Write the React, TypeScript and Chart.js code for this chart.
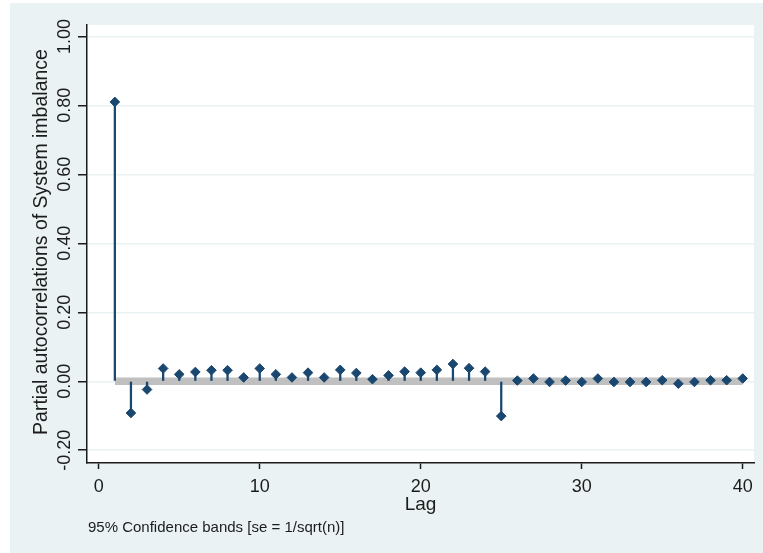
import React, { useEffect, useRef } from "react";
import { Chart, registerables } from "chart.js";

Chart.register(...registerables);

// Partial autocorrelation function of system imbalance, lags 1..40
const lags = [
  1, 2, 3, 4, 5, 6, 7, 8, 9, 10, 11, 12, 13, 14, 15, 16, 17, 18, 19, 20,
  21, 22, 23, 24, 25, 26, 27, 28, 29, 30, 31, 32, 33, 34, 35, 36, 37, 38, 39, 40,
];
const pacValues = [
  0.81, -0.092, -0.024, 0.037, 0.02, 0.027, 0.032, 0.032, 0.011, 0.037,
  0.02, 0.011, 0.025, 0.011, 0.033, 0.024, 0.006, 0.017, 0.028, 0.025,
  0.033, 0.05, 0.038, 0.028, -0.101, 0.002, 0.008, -0.002, 0.002, -0.002,
  0.008, -0.002, -0.002, -0.002, 0.003, -0.007, -0.002, 0.003, 0.003, 0.008,
];
// 95% confidence band half-width, se = 1/sqrt(n)
const bandHalfWidth = 0.011;
const bandLags = [1, 40];

const yTickValues = [-0.2, 0, 0.2, 0.4, 0.6, 0.8, 1.0];
const xTickValues = [0, 10, 20, 30, 40];

const yTitle = "Partial autocorrelations of System imbalance";
const xTitle = "Lag";
const footnote = "95% Confidence bands [se = 1/sqrt(n)]";

const FONT = '"Liberation Sans", Arial, Helvetica, sans-serif';
const TEXT = "#1c1c1c";
const NAVY = "#1a476f";
const REGION_BG = "#eaf2f3";

const stataFrame = {
  id: "stataFrame",
  beforeDraw(chart: any) {
    const { ctx, chartArea, width, height } = chart;
    ctx.save();
    ctx.fillStyle = "#ffffff";
    ctx.fillRect(0, 0, width, height);
    ctx.fillStyle = REGION_BG;
    ctx.fillRect(10, 3, width - 10, height - 3);
    ctx.fillStyle = "#ffffff";
    ctx.fillRect(
      chartArea.left,
      chartArea.top,
      chartArea.right - chartArea.left,
      chartArea.bottom - chartArea.top
    );
    ctx.restore();
  },
  afterDraw(chart: any) {
    const { ctx, chartArea } = chart;
    const xs = chart.scales.x;
    const ys = chart.scales.y;
    ctx.save();
    ctx.fillStyle = TEXT;

    // vertical y tick labels
    ctx.font = `18px ${FONT}`;
    ctx.textAlign = "center";
    ctx.textBaseline = "alphabetic";
    ys.ticks.forEach((t: any) => {
      const y = ys.getPixelForValue(t.value);
      ctx.save();
      ctx.translate(70, y);
      ctx.rotate(-Math.PI / 2);
      ctx.fillText(Number(t.value).toFixed(2), 0, 0);
      ctx.restore();
    });

    // y axis title
    ctx.font = `19.5px ${FONT}`;
    ctx.save();
    ctx.translate(47, (chartArea.top + chartArea.bottom) / 2 - 2);
    ctx.rotate(-Math.PI / 2);
    ctx.fillText(yTitle, 0, 0);
    ctx.restore();

    // x tick labels
    ctx.font = `18px ${FONT}`;
    xs.ticks.forEach((t: any) => {
      const x = xs.getPixelForValue(t.value);
      ctx.fillText(String(t.value), x, 492);
    });

    // x axis title
    ctx.font = `19px ${FONT}`;
    ctx.fillText(xTitle, (chartArea.left + chartArea.right) / 2, 510);

    // note
    ctx.font = `15px ${FONT}`;
    ctx.textAlign = "left";
    ctx.fillText(footnote, 88, 531.5);
    ctx.restore();
  },
};

export default function App() {
  const canvasRef = useRef<HTMLCanvasElement | null>(null);

  useEffect(() => {
    const canvas = canvasRef.current;
    if (!canvas) return;

    const points = lags.map((lag, i) => ({ x: lag, y: pacValues[i] }));
    const bandPoints = bandLags.map((lag) => ({ x: lag, y: bandHalfWidth }));

    const chart = new Chart(canvas, {
      type: "bar",
      data: {
        datasets: [
          {
            type: "line",
            label: "band",
            data: bandPoints,
            borderWidth: 0,
            borderColor: "rgba(0,0,0,0)",
            pointRadius: 0,
            backgroundColor: "#c0c0c0",
            fill: { value: -bandHalfWidth },
            order: 3,
          } as any,
          {
            type: "bar",
            label: "stems",
            data: points,
            backgroundColor: NAVY,
            borderWidth: 0,
            barThickness: 1.6,
            order: 2,
          } as any,
          {
            type: "line",
            label: "PACF",
            data: points,
            showLine: false,
            pointStyle: "rectRot",
            pointRadius: 4.8,
            pointBorderWidth: 1,
            pointBackgroundColor: NAVY,
            pointBorderColor: NAVY,
            order: 1,
          } as any,
        ],
      },
      options: {
        responsive: false,
        maintainAspectRatio: false,
        animation: false,
        layout: { padding: { left: 87, top: 25, right: 9, bottom: 90 } },
        plugins: {
          legend: { display: false },
          tooltip: { enabled: false },
        },
        scales: {
          x: {
            type: "linear",
            min: -0.73,
            max: 40.7,
            offset: false,
            afterBuildTicks: (s: any) => {
              s.ticks = xTickValues.map((v) => ({ value: v }));
            },
            afterFit: (s: any) => {
              s.height = 0;
            },
            ticks: { display: false },
            grid: {
              offset: false,
              drawOnChartArea: false,
              drawTicks: true,
              tickLength: 6,
              tickColor: "#1a1a1a",
              tickWidth: 1.5,
            },
            border: { display: true, color: "#1a1a1a", width: 1.5 },
          },
          y: {
            type: "linear",
            min: -0.237,
            max: 1.033,
            afterBuildTicks: (s: any) => {
              s.ticks = yTickValues.map((v) => ({ value: v }));
            },
            afterFit: (s: any) => {
              s.width = 0;
            },
            ticks: { display: false },
            grid: {
              offset: false,
              drawOnChartArea: true,
              color: REGION_BG,
              lineWidth: 1.5,
              drawTicks: true,
              tickLength: 9,
              tickColor: "#1a1a1a",
              tickWidth: 1.5,
            },
            border: { display: true, color: "#1a1a1a", width: 1.5 },
          },
        },
      },
      plugins: [stataFrame],
    } as any);

    return () => chart.destroy();
  }, []);

  return (
    <div style={{ position: "fixed", left: 0, top: 0, width: 763, height: 553 }}>
      <canvas ref={canvasRef} width={763} height={553} style={{ display: "block" }} />
    </div>
  );
}
